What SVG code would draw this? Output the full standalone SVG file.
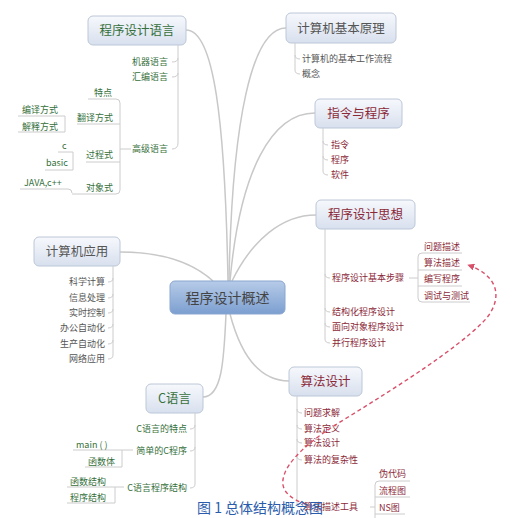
<svg xmlns="http://www.w3.org/2000/svg" width="515" height="518" viewBox="0 0 515 518">
<defs>
<linearGradient id="gBox" x1="0" y1="0" x2="0" y2="1"><stop offset="0" stop-color="#f6f8fc"/><stop offset="1" stop-color="#d8e0ee"/></linearGradient>
<linearGradient id="gCenter" x1="0" y1="0" x2="0" y2="1"><stop offset="0" stop-color="#b6cbe8"/><stop offset="1" stop-color="#7c9fd0"/></linearGradient>
<marker id="arr" viewBox="0 0 10 10" refX="9" refY="5" markerWidth="7" markerHeight="7" orient="auto" markerUnits="userSpaceOnUse"><path d="M0,0 L10,5 L0,10 z" fill="#d9506a"/></marker>
<style>
text{font-family:"Noto Sans CJK SC","Liberation Sans",sans-serif;}
.box{fill:url(#gBox);stroke:#bcc7d8;stroke-width:1;}
.center{fill:url(#gCenter);stroke:#8ba6cf;stroke-width:1;}
.t1{font-size:12.5px;}
.t0{font-size:14px;fill:#444;}
.s{font-size:9px;}
.gray{fill:#555;}
.green{fill:#35703c;}
.red{fill:#8b2838;}
.ln{fill:none;stroke:#c8c8c8;stroke-width:1.5;}
.ln2{fill:none;stroke:#cccccc;stroke-width:1;}
.end{text-anchor:end;}
.mid{text-anchor:middle;}
</style>
</defs>
<rect width="515" height="518" fill="#ffffff"/>

<g id="connectors">
<path class="ln" d="M228,281 C225,120 214,30 186,30"/>
<path class="ln" d="M229,281 C232,120 252,28 286,28"/>
<path class="ln" d="M230,281 C240,170 272,113 315,113"/>
<path class="ln" d="M232,281 C252,240 282,215 316,215"/>
<path class="ln" d="M213,281 C192,262 162,252 120,252"/>
<path class="ln" d="M226,314 C224,360 222,397 203,397"/>
<path class="ln" d="M230,314 C240,352 258,381 289,381"/>
</g>

<g id="n-center">
<rect class="center" x="170" y="281" width="115" height="33" rx="5"/>
<text class="t0 mid" x="227.5" y="302.5">程序设计概述</text>
</g>

<g id="n-lang">
<rect class="box" x="88" y="16" width="98" height="29" rx="5"/>
<text class="t1 green mid" x="137" y="35">程序设计语言</text>
<path class="ln2" d="M178,45 V143 Q178,149 172,149"/>
<path class="ln2" d="M178,58 Q178,62 172,62"/>
<path class="ln2" d="M178,73 Q178,77 172,77"/>
<text class="s green end" x="168" y="65">机器语言</text>
<text class="s green end" x="168" y="80">汇编语言</text>
<text class="s green end" x="168" y="152">高级语言</text>
<path class="ln2" d="M131,149 H120"/>
<path class="ln2" d="M88,99 H116 Q120,99 120,103 V190 Q120,194 116,194 H72"/>
<text class="s green end" x="112" y="96">特点</text>
<path class="ln2" d="M77,124 H120"/>
<text class="s green end" x="113" y="121">翻译方式</text>
<path class="ln2" d="M86,162 H120"/>
<text class="s green end" x="113" y="158">过程式</text>
<text class="s green end" x="113" y="191">对象式</text>
<path class="ln2" d="M18,116 H65 V132 H18"/>
<text class="s green" x="22" y="113">编译方式</text>
<text class="s green" x="22" y="130">解释方式</text>
<path class="ln2" d="M58,152 H73 V170 H45"/>
<text class="s green" x="62" y="149">c</text>
<text class="s green" x="46" y="166">basic</text>
<path class="ln2" d="M20,189 H68 Q72,189 72,193"/>
<text class="s green" x="24" y="186">JAVA,c++</text>
</g>

<g id="n-principle">
<rect class="box" x="286" y="13" width="110" height="30" rx="5"/>
<text class="t1 gray mid" x="341" y="33">计算机基本原理</text>
<path class="ln2" d="M295,43 V70 Q295,74 300,74"/>
<path class="ln2" d="M295,55 Q295,59 300,59"/>
<text class="s gray" x="302" y="62">计算机的基本工作流程</text>
<text class="s gray" x="302" y="77">概念</text>
</g>

<g id="n-instr">
<rect class="box" x="315" y="99" width="87" height="29" rx="5"/>
<text class="t1 red mid" x="358.5" y="118">指令与程序</text>
<path class="ln2" d="M323,128 V171 Q323,175 328,175"/>
<path class="ln2" d="M323,141 Q323,145 328,145"/>
<path class="ln2" d="M323,156 Q323,160 328,160"/>
<text class="s red" x="331" y="148">指令</text>
<text class="s red" x="331" y="163">程序</text>
<text class="s red" x="331" y="178">软件</text>
</g>

<g id="n-thought">
<rect class="box" x="316" y="200" width="99" height="29" rx="5"/>
<text class="t1 red mid" x="365.5" y="219">程序设计思想</text>
<path class="ln2" d="M325,229 V339 Q325,343 330,343"/>
<path class="ln2" d="M325,274 Q325,278 330,278"/>
<path class="ln2" d="M325,308 Q325,312 330,312"/>
<path class="ln2" d="M325,323 Q325,327 330,327"/>
<text class="s red" x="332" y="281">程序设计基本步骤</text>
<text class="s red" x="332" y="315">结构化程序设计</text>
<text class="s red" x="332" y="330">面向对象程序设计</text>
<text class="s red" x="332" y="346">并行程序设计</text>
<path class="ln2" d="M409,278 H418"/>
<path class="ln2" d="M462,253 H422 Q418,253 418,257 V298 Q418,302 422,302 H470"/>
<path class="ln2" d="M418,270 H462"/>
<path class="ln2" d="M418,286 H462"/>
<text class="s red" x="424" y="250">问题描述</text>
<text class="s red" x="424" y="266">算法描述</text>
<text class="s red" x="424" y="282">编写程序</text>
<text class="s red" x="424" y="299">调试与测试</text>
</g>

<g id="n-app">
<rect class="box" x="34" y="237" width="86" height="29" rx="5"/>
<text class="t1 gray mid" x="77" y="256">计算机应用</text>
<path class="ln2" d="M113,266 V355 Q113,359 108,359"/>
<path class="ln2" d="M113,278 Q113,282 108,282"/>
<path class="ln2" d="M113,294 Q113,298 108,298"/>
<path class="ln2" d="M113,309 Q113,313 108,313"/>
<path class="ln2" d="M113,324 Q113,328 108,328"/>
<path class="ln2" d="M113,340 Q113,344 108,344"/>
<text class="s gray end" x="105" y="285">科学计算</text>
<text class="s gray end" x="105" y="301">信息处理</text>
<text class="s gray end" x="105" y="316">实时控制</text>
<text class="s gray end" x="105" y="331">办公自动化</text>
<text class="s gray end" x="105" y="347">生产自动化</text>
<text class="s gray end" x="105" y="362">网络应用</text>
</g>

<g id="n-clang">
<rect class="box" x="146" y="384" width="57" height="29" rx="5"/>
<text class="t1 green mid" x="174.5" y="403">C语言</text>
<path class="ln2" d="M195,413 V484 Q195,488 190,488"/>
<path class="ln2" d="M195,425 Q195,429 190,429"/>
<path class="ln2" d="M195,447 Q195,451 190,451"/>
<text class="s green end" x="187" y="432">C语言的特点</text>
<text class="s green end" x="187" y="454">简单的C程序</text>
<text class="s green end" x="187" y="491">C语言程序结构</text>
<path class="ln2" d="M73,450 H133"/>
<path class="ln2" d="M122,450 V467 H85"/>
<text class="s green" x="76" y="448">main ( )</text>
<text class="s green" x="88" y="465">函数体</text>
<path class="ln2" d="M67,487 H124"/>
<path class="ln2" d="M115,487 V503 H67"/>
<text class="s green" x="70" y="485">函数结构</text>
<text class="s green" x="70" y="501">程序结构</text>
</g>

<g id="n-algo">
<rect class="box" x="289" y="367" width="73" height="29" rx="5"/>
<text class="t1 red mid" x="325.5" y="386">算法设计</text>
<path class="ln2" d="M297,396 V503 Q297,507 302,507"/>
<path class="ln2" d="M297,409 Q297,413 302,413"/>
<path class="ln2" d="M297,425 Q297,429 302,429"/>
<path class="ln2" d="M297,439 Q297,443 302,443"/>
<path class="ln2" d="M297,456 Q297,460 302,460"/>
<text class="s red" x="304" y="416">问题求解</text>
<text class="s red" x="304" y="432">算法定义</text>
<text class="s red" x="304" y="446">算法设计</text>
<text class="s red" x="304" y="463">算法的复杂性</text>
<text class="s red" x="304" y="510">算法描述工具</text>
<path class="ln2" d="M370,507 H375"/>
<path class="ln2" d="M410,481 H379 Q375,481 375,485 V518"/>
<path class="ln2" d="M375,497 H410"/>
<path class="ln2" d="M375,514 H405"/>
<text class="s red" x="379" y="477">伪代码</text>
<text class="s red" x="379" y="494">流程图</text>
<text class="s red" x="379" y="511">NS图</text>
</g>

<g id="link">
<path d="M306,504 C292,500 281,491 283,480 C285,462 310,440 345,419 C400,385 455,350 483,322 C500,305 505,278 468,265" fill="none" stroke="#d9506a" stroke-width="1.4" stroke-dasharray="4 3" marker-end="url(#arr)"/>
</g>

<text x="197" y="513" font-size="14" fill="#2b5cab" font-family="Noto Sans CJK SC, sans-serif">图 1 总体结构概念图</text>
</svg>
